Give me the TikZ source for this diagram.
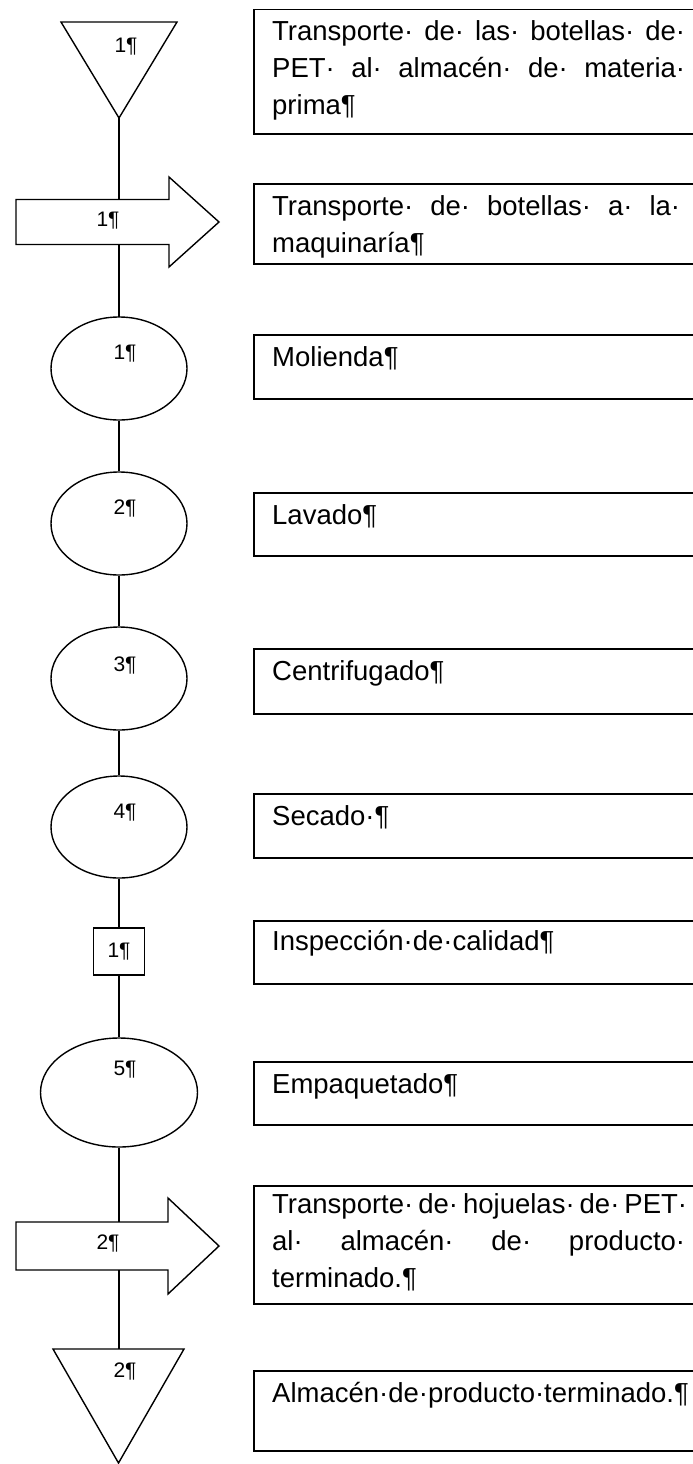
\documentclass[tikz,border=0pt]{standalone}
\usepackage{fontspec}
\setmainfont{Liberation Sans}
\usetikzlibrary{shapes.geometric}
\newcommand\wsp{·\hskip 0pt plus 1fil\relax}
\begin{document}
\begin{tikzpicture}[x=1pt,y=-1pt,
  shp/.style={draw=black, fill=white, line width=1.4pt},
  oval/.style={shp, ellipse, minimum width=136pt, minimum height=103pt, inner sep=0pt},
  num/.style={font=\fontsize{21}{25}\selectfont, inner sep=0pt},
  txtbox/.style={draw=black, line width=1.5pt, anchor=north west, inner sep=0pt, minimum width=470pt},
  txt/.style={anchor=base west, inner sep=0pt, font=\fontsize{27.5}{37}\selectfont},
  conn/.style={draw=black, line width=1.4pt}]
\clip (0,0) rectangle (693,1464);
\fill[white] (0,0) rectangle (693,1464);

% text boxes
\node[txtbox, minimum height=124pt] (b1) at (253,9) {};
\node[txtbox, minimum height=80pt]  (b2) at (253,183) {};
\node[txtbox, minimum height=64pt]  (b3) at (253,334) {};
\node[txtbox, minimum height=63pt]  (b4) at (253,492) {};
\node[txtbox, minimum height=65pt]  (b5) at (253,648) {};
\node[txtbox, minimum height=64pt]  (b6) at (253,793) {};
\node[txtbox, minimum height=63pt]  (b7) at (253,920) {};
\node[txtbox, minimum height=63pt]  (b8) at (253,1061) {};
\node[txtbox, minimum height=118pt] (b9) at (253,1185) {};
\node[txtbox, minimum height=80pt]  (b10) at (253,1370) {};

\node[txt] (t1) at (272,41) {\parbox[t]{420pt}{\makebox[413pt][s]{Transporte\wsp de\wsp las\wsp botellas\wsp de·}\\
  \makebox[413pt][s]{PET\wsp al\wsp almacén\wsp de\wsp materia·}\\
  prima¶}};
\node[txt] (t2) at (272,215) {\parbox[t]{420pt}{\makebox[408pt][s]{Transporte\wsp de\wsp botellas\wsp a\wsp la·}\\
  maquinaría¶}};
\node[txt] (t3) at (272,366) {Molienda¶};
\node[txt] (t4) at (272,524) {Lavado¶};
\node[txt] (t5) at (272,680) {Centrifugado¶};
\node[txt] (t6) at (272,825) {Secado·¶};
\node[txt] (t7) at (272,950) {Inspección·de·calidad¶};
\node[txt] (t8) at (272,1093) {Empaquetado¶};
\node[txt] (t9) at (272,1213) {\parbox[t]{420pt}{\makebox[415pt][s]{Transporte\wsp de\wsp hojuelas\wsp de\wsp PET·}\\
  \makebox[413pt][s]{al\wsp almacén\wsp de\wsp producto·}\\
  terminado.¶}};
\node[txt] (t10) at (272,1402) {Almacén·de·producto·terminado.¶};

% connection points of drawn shapes
\coordinate (t1b) at (119,118);
\coordinate (a1t) at (119,199.5);
\coordinate (a1b) at (119,244.5);
\coordinate (a2t) at (119,1222);
\coordinate (a2b) at (119,1270);
\coordinate (t2t) at (119,1349);

% connectors
\draw[conn] (t1b) -- (a1t);
\draw[conn] (a1b) -- (119,320);

% shapes
\draw[shp] (61,22) -- (177,22) -- (t1b) -- cycle;
\node[num] (n1) at (126,47) {1¶};

\draw[shp] (16,199.5) -- (169,199.5) -- (169,177) -- (219,222) -- (169,267) -- (169,244.5) -- (16,244.5) -- cycle;
\node[num] (n2) at (108,221) {1¶};

\node[oval] (e1) at (119,368.5) {};
\node[num] (n3) at (125,354) {1¶};
\node[oval] (e2) at (119,523.5) {};
\node[num] (n4) at (125,509) {2¶};
\node[oval] (e3) at (119,678.5) {};
\node[num] (n5) at (125,666) {3¶};
\node[oval, minimum height=102pt] (e4) at (119,827) {};
\node[num] (n6) at (125,813) {4¶};
\node[shp, minimum width=51pt, minimum height=47pt, inner sep=0pt, font=\fontsize{21}{25}\selectfont] (sq) at (119,951.5) {1¶};
\node[oval, minimum width=157pt, minimum height=109pt] (e5) at (119,1092.5) {};
\node[num] (n7) at (125,1070) {5¶};

\draw[shp] (16,1222) -- (168,1222) -- (168,1198) -- (219,1246) -- (168,1294) -- (168,1270) -- (16,1270) -- cycle;
\node[num] (n8) at (108,1244) {2¶};

\draw[shp] (53,1349) -- (184,1349) -- (118.5,1463) -- cycle;
\node[num] (n9) at (125,1372) {2¶};

\draw[conn] (e1.south) -- (e2.north);
\draw[conn] (e2.south) -- (e3.north);
\draw[conn] (e3.south) -- (e4.north);
\draw[conn] (e4.south) -- (sq.north);
\draw[conn] (sq.south) -- (e5.north);
\draw[conn] (e5.south) -- (a2t);
\draw[conn] (a2b) -- (t2t);
\end{tikzpicture}
\end{document}
